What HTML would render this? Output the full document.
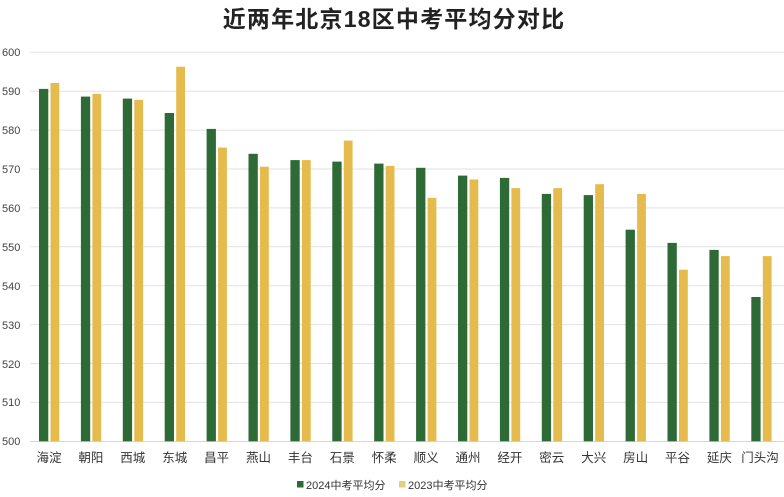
<!DOCTYPE html>
<html><head><meta charset="utf-8"><style>
html,body{margin:0;padding:0;background:#fff;}
svg{display:block;}
text{font-family:"Liberation Sans","Noto Sans CJK SC",sans-serif;}
</style></head><body>
<svg width="784" height="497" viewBox="0 0 784 497" xmlns="http://www.w3.org/2000/svg">
<rect width="784" height="497" fill="#fff"/>
<text x="394" y="27" text-anchor="middle" font-size="23" font-weight="bold" fill="#222" letter-spacing="1.2">近两年北京18区中考平均分对比</text>
<g stroke="#e2e2e2" stroke-width="1">
<line x1="30" x2="784" y1="52.3" y2="52.3"/>
<line x1="30" x2="784" y1="91.2" y2="91.2"/>
<line x1="30" x2="784" y1="130.1" y2="130.1"/>
<line x1="30" x2="784" y1="169" y2="169"/>
<line x1="30" x2="784" y1="207.9" y2="207.9"/>
<line x1="30" x2="784" y1="246.8" y2="246.8"/>
<line x1="30" x2="784" y1="285.7" y2="285.7"/>
<line x1="30" x2="784" y1="324.6" y2="324.6"/>
<line x1="30" x2="784" y1="363.5" y2="363.5"/>
<line x1="30" x2="784" y1="402.4" y2="402.4"/>
<line x1="30" x2="784" y1="441.5" y2="441.5" stroke="#d6d6d6"/>
</g>
<g font-size="11" fill="#444">
<text x="2" y="56">600</text>
<text x="2" y="95">590</text>
<text x="2" y="134">580</text>
<text x="2" y="173">570</text>
<text x="2" y="212">560</text>
<text x="2" y="251">550</text>
<text x="2" y="290">540</text>
<text x="2" y="329">530</text>
<text x="2" y="368">520</text>
<text x="2" y="406">510</text>
<text x="2" y="445">500</text>
</g>
<g fill="#2d6a36">
<rect x="39" y="88.9" width="9.3" height="352.4"/>
<rect x="80.9" y="96.6" width="9.3" height="344.7"/>
<rect x="122.8" y="98.6" width="9.3" height="342.7"/>
<rect x="164.7" y="113" width="9.3" height="328.3"/>
<rect x="206.6" y="128.9" width="9.3" height="312.4"/>
<rect x="248.5" y="153.8" width="9.3" height="287.5"/>
<rect x="290.4" y="160.1" width="9.3" height="281.2"/>
<rect x="332.3" y="161.6" width="9.3" height="279.7"/>
<rect x="374.2" y="163.6" width="9.3" height="277.7"/>
<rect x="416.1" y="167.8" width="9.3" height="273.5"/>
<rect x="458" y="175.6" width="9.3" height="265.7"/>
<rect x="499.9" y="177.9" width="9.3" height="263.4"/>
<rect x="541.8" y="193.9" width="9.3" height="247.4"/>
<rect x="583.7" y="195.1" width="9.3" height="246.2"/>
<rect x="625.6" y="229.7" width="9.3" height="211.6"/>
<rect x="667.5" y="242.9" width="9.3" height="198.4"/>
<rect x="709.4" y="249.9" width="9.3" height="191.4"/>
<rect x="751.3" y="297" width="9.3" height="144.3"/>
</g>
<g fill="#e4bb4c">
<rect x="50.5" y="83" width="8.8" height="358.3"/>
<rect x="92.4" y="93.9" width="8.8" height="347.4"/>
<rect x="134.3" y="99.8" width="8.8" height="341.5"/>
<rect x="176.2" y="66.7" width="8.8" height="374.6"/>
<rect x="218.1" y="147.6" width="8.8" height="293.7"/>
<rect x="260" y="166.7" width="8.8" height="274.6"/>
<rect x="301.9" y="160.1" width="8.8" height="281.2"/>
<rect x="343.8" y="140.6" width="8.8" height="300.7"/>
<rect x="385.7" y="165.9" width="8.8" height="275.4"/>
<rect x="427.6" y="197.8" width="8.8" height="243.5"/>
<rect x="469.5" y="179.5" width="8.8" height="261.8"/>
<rect x="511.4" y="188.1" width="8.8" height="253.2"/>
<rect x="553.3" y="188.1" width="8.8" height="253.2"/>
<rect x="595.2" y="184.2" width="8.8" height="257.1"/>
<rect x="637.1" y="193.9" width="8.8" height="247.4"/>
<rect x="679" y="269.7" width="8.8" height="171.6"/>
<rect x="720.9" y="256.1" width="8.8" height="185.2"/>
<rect x="762.8" y="256.1" width="8.8" height="185.2"/>
</g>
<g font-size="12.5" fill="#333" text-anchor="middle">
<text x="49" y="462">海淀</text>
<text x="90.9" y="462">朝阳</text>
<text x="132.8" y="462">西城</text>
<text x="174.7" y="462">东城</text>
<text x="216.6" y="462">昌平</text>
<text x="258.5" y="462">燕山</text>
<text x="300.4" y="462">丰台</text>
<text x="342.3" y="462">石景</text>
<text x="384.2" y="462">怀柔</text>
<text x="426.1" y="462">顺义</text>
<text x="468" y="462">通州</text>
<text x="509.9" y="462">经开</text>
<text x="551.8" y="462">密云</text>
<text x="593.7" y="462">大兴</text>
<text x="635.6" y="462">房山</text>
<text x="677.5" y="462">平谷</text>
<text x="719.4" y="462">延庆</text>
<text x="760" y="462">门头沟</text>
</g>
<rect x="297" y="481" width="6.5" height="6.5" fill="#2d6a36"/>
<text x="306" y="489" font-size="11" fill="#333">2024中考平均分</text>
<rect x="399" y="481" width="6.5" height="6.5" fill="#e4d07a"/>
<text x="408" y="489" font-size="11" fill="#333">2023中考平均分</text>
</svg>
</body></html>
